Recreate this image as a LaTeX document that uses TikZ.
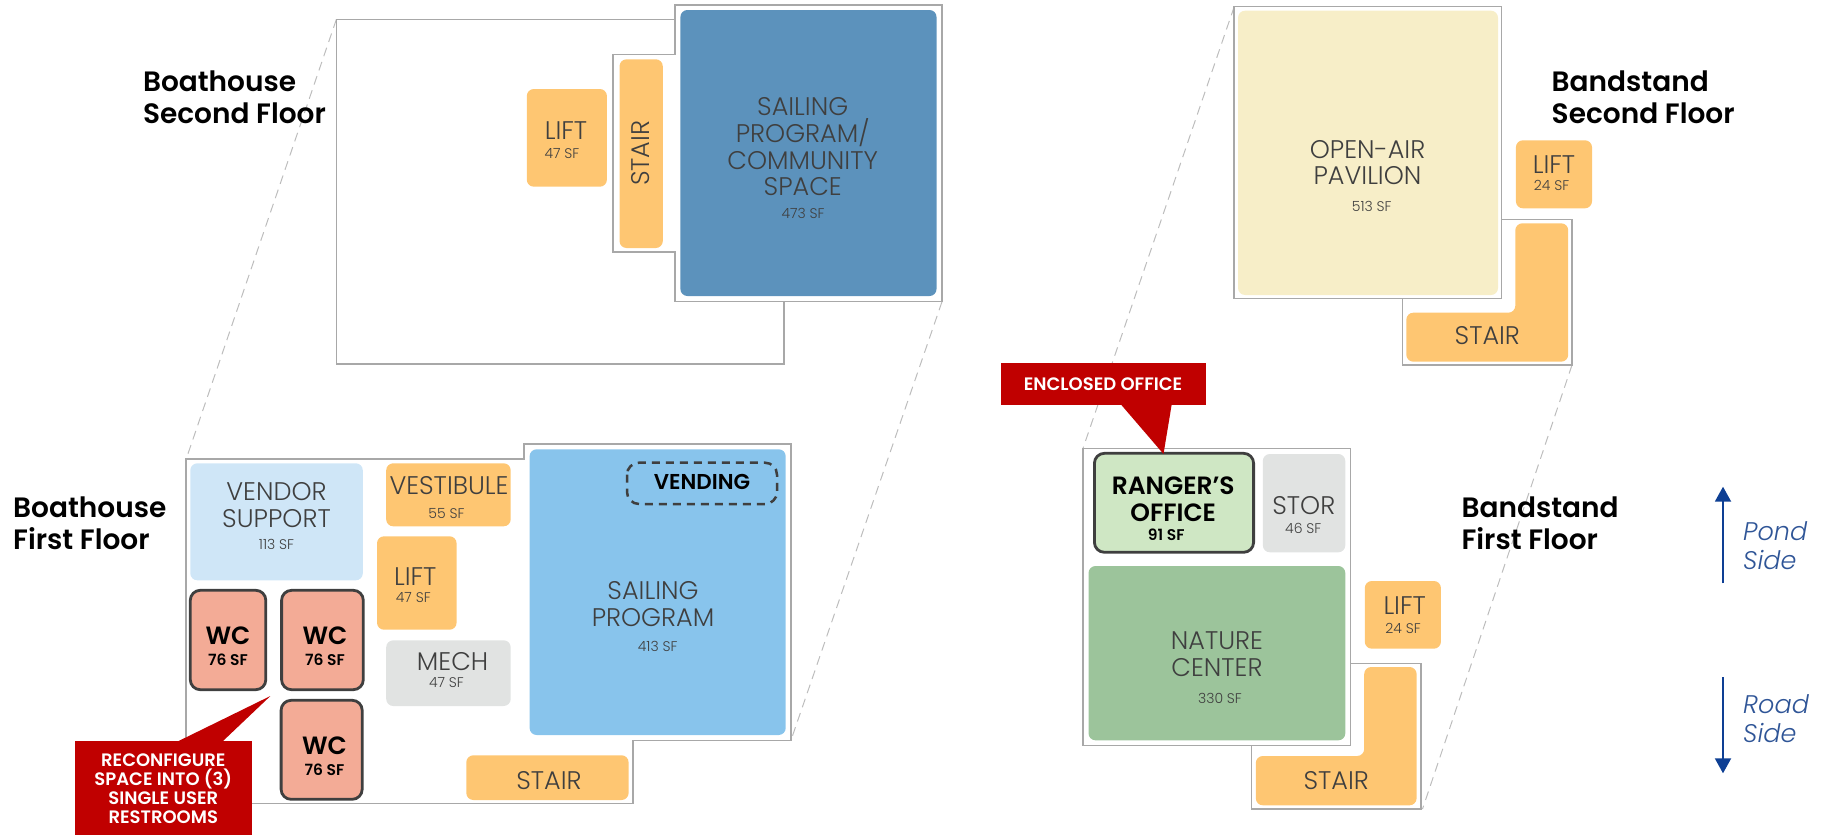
\documentclass[tikz,border=0pt]{standalone}
\usepackage{fontspec}
\setmainfont{Poppins}[BoldFont={Poppins SemiBold}]
\newfontfamily\lightfont{Poppins Light}
\usetikzlibrary{arrows.meta}
\definecolor{wallgray}{HTML}{A8A8A8}
\definecolor{leadgray}{HTML}{BDBDBD}
\definecolor{inkgray}{HTML}{3F3F3F}
\definecolor{stairfill}{HTML}{FEC672}
\definecolor{deepblue}{HTML}{5C92BC}
\definecolor{skyblue}{HTML}{88C4EC}
\definecolor{paleblue}{HTML}{CFE6F7}
\definecolor{mechgray}{HTML}{E1E3E2}
\definecolor{wcred}{HTML}{F3AB96}
\definecolor{calloutred}{HTML}{C00000}
\definecolor{creamfill}{HTML}{F7EEC8}
\definecolor{palegreen}{HTML}{CFE7C4}
\definecolor{natgreen}{HTML}{9CC49B}
\definecolor{arrowblue}{HTML}{0E3F94}
\definecolor{sidetext}{HTML}{2F5597}
\begin{document}
\begin{tikzpicture}[x=1pt, y=-1pt,
    wall/.style={draw=wallgray, line width=1.5pt, line join=miter},
    leader/.style={draw=leadgray, line width=1pt, dash pattern=on 9pt off 6pt},
    room/.style={rounded corners=7pt},
    boldroom/.style={room, draw=inkgray, line width=2.8pt, rounded corners=10pt},
    roomlabel/.style={inner sep=0pt, align=center, text=inkgray, font=\lightfont\fontsize{25.5}{26.7}\selectfont},
    arealabel/.style={inner sep=0pt, text=inkgray, font=\lightfont\fontsize{14}{16}\selectfont},
    boldlabel/.style={inner sep=0pt, align=center, text=black, font=\bfseries\fontsize{25}{27}\selectfont},
    boldarea/.style={inner sep=0pt, text=black, font=\bfseries\fontsize{15.5}{16}\selectfont},
    floorlabel/.style={inner sep=0pt, anchor=west, align=left, text=black, font=\bfseries\fontsize{28}{32}\selectfont},
    calloutlabel/.style={inner sep=0pt, align=center, text=white, font=\bfseries\fontsize{18}{19.2}\selectfont},
    sidelabel/.style={inner sep=0pt, anchor=west, align=left, text=sidetext, font=\lightfont\itshape\fontsize{25.5}{29}\selectfont},
    sidearrow/.style={draw=arrowblue, line width=2pt, -{Triangle[length=15pt, width=16pt]}}]
    \useasboundingbox (0,0) rectangle (1826,835);

    % corners the leader lines hang from
    \coordinate (bhtwotl) at (336.4,19.3);
    \coordinate (bhtwobr) at (942,301.7);
    \coordinate (bhonetl) at (186.2,459);
    \coordinate (bhonebr) at (790.8,740.7);
    \coordinate (bstwotl) at (1234.2,6.7);
    \coordinate (bstwobr) at (1572,365);
    \coordinate (bsonetl) at (1083,448.3);
    \coordinate (bsonebr) at (1422.5,809);
    \draw[leader] (bhtwotl) -- (bhonetl);
    \draw[leader] (bhtwobr) -- (bhonebr);
    \draw[leader] (bstwotl) -- (bsonetl);
    \draw[leader] (bstwobr) -- (bsonebr);

    % boathouse second floor
    \draw[wall] (bhtwotl) -- (674.9,19.3) -- (674.9,5) -- (942,5) -- (bhtwobr) -- (674.9,301.7)
      -- (674.9,252) -- (612.9,252) -- (612.9,54.3) -- (674.9,54.3) -- (674.9,19.3);
    \draw[wall] (784,301.7) -- (784,364) -- (336.4,364) -- (bhtwotl);
    \fill[room, deepblue] (680.4,10) rectangle (936.5,296);
    \fill[room, stairfill] (619.5,59.3) rectangle (662.8,248);
    \fill[room, stairfill] (526.8,89) rectangle (606.9,186.7);

    % boathouse first floor
    \draw[wall] (186.2,803.3) -- (bhonetl) -- (524,459) -- (524,444) -- (790.8,444) -- (bhonebr)
      -- (633.2,740.7) -- (633.2,803.3) -- cycle;
    \fill[room, paleblue] (190.3,463.3) rectangle (362.8,580.3);
    \fill[room, stairfill] (386.2,463.3) rectangle (510.7,526.3);
    \fill[room, stairfill] (377,536.3) rectangle (456.6,629.7);
    \fill[room, mechgray] (386.2,640.3) rectangle (510.7,706);
    \fill[room, skyblue] (529.6,449.3) rectangle (785.7,735);
    \fill[room, stairfill] (466.3,755.3) rectangle (628.6,800);
    \draw[room, draw=inkgray, line width=2.5pt, dash pattern=on 8pt off 6pt, rounded corners=12pt] (627,462.7) rectangle (777,504);
    \foreach \xa/\ya/\xb/\yb in {190.3/590.3/265.8/689.7, 281.6/590.3/363.3/689.7, 281.1/700.3/362.2/799.3}{
      \filldraw[boldroom, fill=wcred] (\xa,\ya) rectangle (\xb,\yb);
    }

    % bandstand second floor
    \draw[wall] (1402.6,298.3) -- (1402.6,365) -- (bstwobr) -- (1572,219.3) -- (1501.3,219.3);
    \draw[wall] (bstwotl) rectangle (1501.3,298.3);
    \fill[room, creamfill] (1238,10.7) rectangle (1498,295);
    \fill[room, stairfill] (1515.9,140.3) rectangle (1592,208.3);
    \fill[room, stairfill] (1406.3,312.7) -- (1515.3,312.7) -- (1515.3,223.3) -- (1568.2,223.3)
      -- (1568.2,361.7) -- (1406.3,361.7) -- cycle;

    % bandstand first floor
    \draw[wall] (bsonetl) rectangle (1350.7,745.7);
    \draw[wall] (1350.7,663.3) -- (1420.9,663.3) -- (1420.9,809) -- (1251.5,809) -- (1251.5,745.7);
    \filldraw[boldroom, fill=palegreen] (1094.4,453.3) rectangle (1253.6,552.3);
    \fill[room, mechgray] (1262.8,454) rectangle (1345.3,552.3);
    \fill[room, natgreen] (1088.5,566) rectangle (1345.3,740.3);
    \fill[room, stairfill] (1364.8,581) rectangle (1440.9,648.7);
    \fill[room, stairfill] (1255.8,756) -- (1364.2,756) -- (1364.2,667) -- (1416.6,667)
      -- (1416.6,805.3) -- (1255.8,805.3) -- cycle;

    % callouts
    \fill[calloutred] (75,741) rectangle (252,835);
    \fill[calloutred] (178.6,741) -- (270.4,696) -- (223,741) -- cycle;
    \fill[calloutred] (1001,363.3) rectangle (1205.6,405);
    \fill[calloutred] (1121.4,405) -- (1163.5,454) -- (1171.6,405) -- cycle;
    \node[calloutlabel] (reconfigure) at (163.3,788.5) {RECONFIGURE\\SPACE INTO (3)\\SINGLE USER\\RESTROOMS};
    \node[calloutlabel] (enclosed) at (1103,384.3) {ENCLOSED OFFICE};

    % room names
    \foreach \nm/\xx/\yy/\txt in {bhtwolift/566/131/LIFT, bhtwosail/802.7/147/{SAILING\\PROGRAM/\\COMMUNITY\\SPACE},
      vendor/276.5/505/{VENDOR\\SUPPORT}, vestibule/449/485.7/VESTIBULE, bhonelift/415.3/576.7/LIFT,
      mech/452.6/661.3/MECH, bhonesail/653/604.3/{SAILING\\PROGRAM}, bhonestair/549/781/STAIR,
      pavilion/1367.5/162.7/{OPEN-AIR\\PAVILION}, bstwolift/1554/165/LIFT, bstwostair/1487.3/336/STAIR,
      stor/1303.8/505.7/STOR, nature/1217/654/{NATURE\\CENTER}, bsonelift/1404.7/605.7/LIFT, bsonestair/1336.2/781/STAIR}{
      \node[roomlabel] (\nm) at (\xx,\yy) {\txt};
    }
    \node[roomlabel, rotate=90] (bhtwostair) at (640.9,153.3) {STAIR};

    % areas
    \foreach \nm/\xx/\yy/\txt in {abhtwolift/562/154/47 SF, abhtwosail/803/213/473 SF, avendor/276.5/544.3/113 SF,
      avestibule/446.4/513.3/55 SF, abhonelift/413.3/598/47 SF, amech/446.4/682.7/47 SF, abhonesail/657.7/646/413 SF,
      apavilion/1371.8/206.7/513 SF, abstwolift/1551.5/185.3/24 SF, astor/1303.3/528.3/46 SF,
      anature/1220/698.3/330 SF, absonelift/1403/628/24 SF}{
      \node[arealabel] (\nm) at (\xx,\yy) {\txt};
    }

    % bold rooms
    \foreach \nm/\xx/\yy in {wcone/228/635.7, wctwo/325/635.7, wcthree/324.5/745.7}{
      \node[boldlabel] (\nm) at (\xx,\yy) {WC};
    }
    \foreach \nm/\xx/\yy in {awcone/228/659.3, awctwo/325/659.3, awcthree/324.5/769.3}{
      \node[boldarea] (\nm) at (\xx,\yy) {76 SF};
    }
    \node[boldlabel, font=\bfseries\fontsize{21.5}{24}\selectfont] (vending) at (702,482.3) {VENDING};
    \node[boldlabel] (ranger) at (1173.2,499.5) {RANGER’S\\OFFICE};
    \node[boldarea] (aranger) at (1166.2,534.3) {91 SF};

    % floor titles
    \node[floorlabel] (bhtwotitle) at (142.8,97.5) {Boathouse\\Second Floor};
    \node[floorlabel] (bhonetitle) at (13,523) {Boathouse\\First Floor};
    \node[floorlabel] (bstwotitle) at (1551.5,97.5) {Bandstand\\Second Floor};
    \node[floorlabel] (bsonetitle) at (1461.4,523) {Bandstand\\First Floor};

    % orientation
    \coordinate (pondfoot) at (1723,583.3);
    \coordinate (pondtip) at (1723,486.7);
    \coordinate (roadfoot) at (1723,677.3);
    \coordinate (roadtip) at (1723,773.3);
    \draw[sidearrow] (pondfoot) -- (pondtip);
    \draw[sidearrow] (roadfoot) -- (roadtip);
    \node[sidelabel] (pond) at (1743,546) {Pond\\Side};
    \node[sidelabel] (road) at (1743,719) {Road\\Side};
\end{tikzpicture}
\end{document}
